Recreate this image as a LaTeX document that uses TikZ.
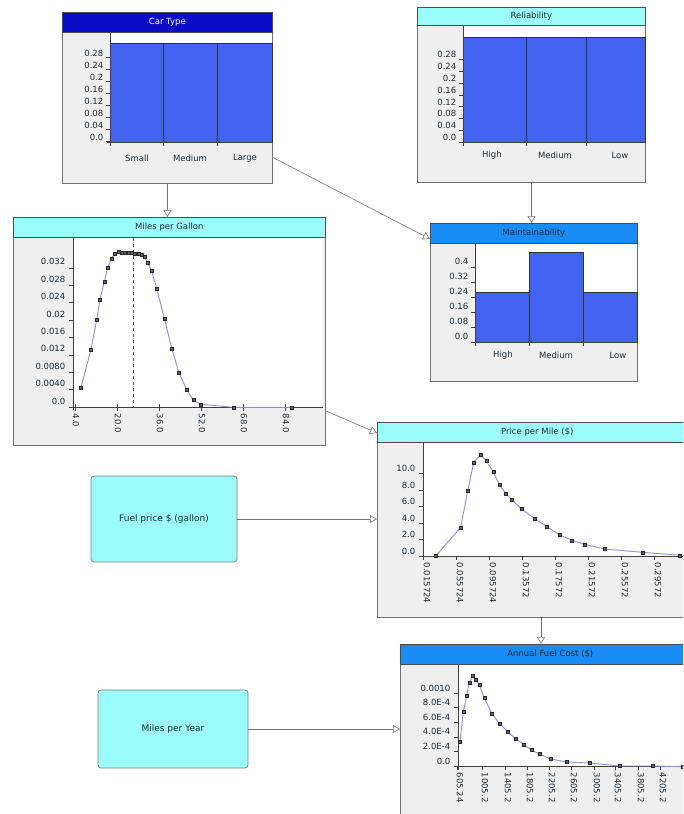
\documentclass[tikz,border=0pt]{standalone}
\usepackage{fontspec}
\setmainfont{DejaVu Sans}
\usetikzlibrary{arrows.meta}
\definecolor{hdrdark}{HTML}{0A0AC8}
\definecolor{hdrcyan}{HTML}{9CFCFC}
\definecolor{hdrmid}{HTML}{1A8CF5}
\definecolor{panelbg}{HTML}{EFEFEF}
\definecolor{barblue}{HTML}{4262F2}
\definecolor{curveblue}{HTML}{8E90D2}
\definecolor{txt}{HTML}{1E2A33}
\definecolor{edge}{HTML}{707070}
\newcommand{\tickfont}{\fontsize{8.5}{9}\selectfont}
\newcommand{\hdrfont}{\fontsize{8.5}{9}\selectfont}
\newcommand{\boxfont}{\fontsize{9}{10}\selectfont}
\begin{document}
\begin{tikzpicture}[x=1pt,y=-1pt,
  panel/.style={draw=edge, fill=panelbg, line width=0.9pt, inner sep=0pt, anchor=north west},
  hdr/.style={draw=black!70, line width=0.6pt, inner sep=0pt, anchor=north west, text=txt, font=\hdrfont},
  bar/.style={fill=barblue, draw=black!80, line width=0.5pt},
  axisline/.style={draw=black!75, line width=0.6pt},
  ticklab/.style={font=\tickfont, text=txt, inner sep=0.5pt},
  conn/.style={draw=black!55, line width=0.6pt, -{Triangle[open, length=7pt, width=8pt]}},
  curve/.style={draw=curveblue, line width=0.9pt},
  msq/.style={fill=black!60, draw=black!85, line width=0.3pt},
  rbox/.style={draw=black!50, fill=hdrcyan, rounded corners=3pt, line width=0.8pt, inner sep=0pt, font=\boxfont, text=txt}
]
\useasboundingbox (0,0) rectangle (683,814);
\clip (0,0) rectangle (683,814);
\fill[white] (0,0) rectangle (683,814);

% ---------------- Car Type
\node[panel, minimum width=210pt, minimum height=171pt] (ct) at (62,12) {};
\fill[white] (110,33) rectangle (272,142);
\filldraw[bar] (110,43) rectangle (163,142);
\filldraw[bar] (163,43) rectangle (217,142);
\filldraw[bar] (217,43) rectangle (272,142);
\draw[axisline] (110,33) -- (110,145);
\draw[axisline] (107,142) -- (272,142);
\foreach \v [count=\i from 0] in {0.0,0.04,0.08,0.12,0.16,0.2,0.24,0.28} {
  \draw[axisline] (106,141.7-\i*12) -- (110,141.7-\i*12);
  \node[ticklab, anchor=east] (ctt\i) at (104,141.7-\i*12-4.5) {\v};
}
\foreach \x in {110,163,217} \draw[axisline] (\x,142) -- (\x,146);
\node[ticklab] (cts) at (137,158) {Small};
\node[ticklab] (ctm) at (190,158) {Medium};
\node[ticklab] (ctl) at (245,158) {Large};
\node[hdr, fill=hdrdark, text=white, minimum width=210pt, minimum height=20pt] (cth) at (62,12) {Car Type};

% ---------------- Reliability
\node[panel, minimum width=228pt, minimum height=175pt] (rel) at (417,7) {};
\fill[white] (463,26) rectangle (645,142);
\filldraw[bar] (463,37) rectangle (526,142);
\filldraw[bar] (526,37) rectangle (586,142);
\filldraw[bar] (586,37) rectangle (645,142);
\draw[axisline] (463,26) -- (463,145);
\draw[axisline] (459,142) -- (645,142);
\foreach \v [count=\i from 0] in {0.0,0.04,0.08,0.12,0.16,0.2,0.24,0.28} {
  \draw[axisline] (459,142-\i*11.8) -- (463,142-\i*11.8);
  \node[ticklab, anchor=east] (relt\i) at (457,142-\i*11.8-4.5) {\v};
}
\foreach \x in {463,526,586} \draw[axisline] (\x,142) -- (\x,146);
\node[ticklab] (relh1) at (492,155) {High};
\node[ticklab] (relm1) at (555,155) {Medium};
\node[ticklab] (rell1) at (620,155) {Low};
\node[hdr, fill=hdrcyan, minimum width=228pt, minimum height=18pt] (relh) at (417,7) {Reliability};

% ---------------- Miles per Gallon
\node[panel, minimum width=312pt, minimum height=228pt] (mpg) at (13,217) {};
\fill[white] (73,237) rectangle (323,407);
\draw[axisline] (73,237) -- (73,410);
\draw[axisline] (70,407) -- (323,407);
\foreach \v [count=\i from 0] in {0.0,0.0040,0.0080,0.012,0.016,0.02,0.024,0.028,0.032} {
  \draw[axisline] (69,407-\i*17.4) -- (73,407-\i*17.4);
  \node[ticklab, anchor=east] (mpgt\i) at (66,407-\i*17.4-6) {\v};
}
\foreach \x/\v [count=\i] in {75/4.0,117/20.0,159/36.0,201/52.0,243/68.0,285/84.0} {
  \draw[axisline] (\x,404) -- (\x,411);
  \node[ticklab, rotate=-90, anchor=west] (mpgx\i) at (\x+1,413) {\v};
}
\draw[black!70, dashed, line width=0.6pt] (133,238) -- (133,407);
\draw[curve] plot coordinates {(81,387.3) (91,349.3) (96.7,320) (100,299.3) (104.3,281.7) (107.7,267.7) (111.7,258.3) (115,253.3) (118.3,251.7) (121.7,252.7) (125,252.7) (128.3,252.7) (131.7,252.7) (135,253.3) (138.3,254) (141.7,255) (144.3,256.7) (147.7,262.7) (151.7,271) (156.7,288.3) (164.3,318.3) (171.7,348.3) (179,372.7) (186.7,390) (193.3,400) (201,404.3) (233.3,407.3) (291.7,407.3)};
\foreach \px/\py in {81/387.3,91/349.3,96.7/320,100/299.3,104.3/281.7,107.7/267.7,111.7/258.3,115/253.3,118.3/251.7,121.7/252.7,125/252.7,128.3/252.7,131.7/252.7,135/253.3,138.3/254,141.7/255,144.3/256.7,147.7/262.7,151.7/271,156.7/288.3,164.3/318.3,171.7/348.3,179/372.7,186.7/390,193.3/400,201/404.3,233.3/407.3,291.7/407.3}
  \filldraw[msq] (\px-1.6,\py-1.6) rectangle (\px+1.6,\py+1.6);
\node[hdr, fill=hdrcyan, minimum width=312pt, minimum height=20pt] (mpgh) at (13,217) {Miles per Gallon};

% ---------------- Maintainability
\node[panel, minimum width=207pt, minimum height=158pt] (mt) at (430,223) {};
\fill[white] (475,243) rectangle (637,342);
\filldraw[bar] (475,292) rectangle (529,342);
\filldraw[bar] (529,252) rectangle (583,342);
\filldraw[bar] (583,292) rectangle (637,342);
\draw[axisline] (475,243) -- (475,345);
\draw[axisline] (471,342) -- (637,342);
\foreach \v [count=\i from 0] in {0.0,0.08,0.16,0.24,0.32,0.4} {
  \draw[axisline] (471,342-\i*15) -- (475,342-\i*15);
  \node[ticklab, anchor=east] (mtt\i) at (469,342-\i*15-6) {\v};
}
\foreach \x in {475,529,583} \draw[axisline] (\x,342) -- (\x,346);
\node[ticklab] (mth1) at (503,355) {High};
\node[ticklab] (mtm1) at (556,355) {Medium};
\node[ticklab] (mtl1) at (618,355) {Low};
\node[hdr, fill=hdrmid, minimum width=207pt, minimum height=20pt] (mth) at (430,223) {Maintainability};

% ---------------- Price per Mile
\node[panel, minimum width=320pt, minimum height=195pt] (pm) at (377,422) {};
\fill[white] (423,442) rectangle (690,556);
\draw[axisline] (423,442) -- (423,560);
\draw[axisline] (419,556) -- (690,556);
\foreach \v [count=\i from 0] in {0.0,2.0,4.0,6.0,8.0,10.0} {
  \draw[axisline] (419,556-\i*16.5) -- (423,556-\i*16.5);
  \node[ticklab, anchor=east] (pmt\i) at (416,556-\i*16.5-5) {\v};
}
\foreach \v [count=\i from 0] in {0.015724,0.055724,0.095724,0.13572,0.17572,0.21572,0.25572,0.29572} {
  \draw[axisline] (423+\i*33,556) -- (423+\i*33,560);
  \node[ticklab, rotate=-90, anchor=west] (pmx\i) at (427+\i*33,562) {\v};
}
\draw[curve] plot coordinates {(436,555.7) (460.7,527.3) (467.7,491) (473.7,462.3) (480.3,455) (486.3,460.7) (493.3,472) (499.3,484.7) (505.7,493.3) (512,500) (521.7,509) (534.7,518.7) (547,526.7) (559.3,534.7) (572,540.3) (584.7,544.3) (604.3,549) (642.7,552.3) (680,555.3)};
\foreach \px/\py in {436/555.7,460.7/527.3,467.7/491,473.7/462.3,480.3/455,486.3/460.7,493.3/472,499.3/484.7,505.7/493.3,512/500,521.7/509,534.7/518.7,547/526.7,559.3/534.7,572/540.3,584.7/544.3,604.3/549,642.7/552.3,680/555.3}
  \filldraw[msq] (\px-1.6,\py-1.6) rectangle (\px+1.6,\py+1.6);
\node[hdr, fill=hdrcyan, minimum width=320pt, minimum height=20pt] (pmh) at (377,422) {Price per Mile (\$)};

% ---------------- Annual Fuel Cost
\node[panel, minimum width=300pt, minimum height=175pt] (afc) at (400,644) {};
\fill[white] (458,664) rectangle (690,766);
\draw[axisline] (458,664) -- (458,770);
\draw[axisline] (454,766) -- (690,766);
\foreach \v [count=\i from 0] in {0.0,2.0E-4,4.0E-4,6.0E-4,8.0E-4,0.0010} {
  \draw[axisline] (454,766-\i*14.6) -- (458,766-\i*14.6);
  \node[ticklab, anchor=east] (afct\i) at (451,766-\i*14.6-5) {\v};
}
\foreach \x/\v [count=\i] in {460/605.24,485/1005.2,508/1405.2,530/1805.2,552/2205.2,574/2605.2,597/3005.2,618/3405.2,641/3805.2,663/4205.2} {
  \draw[axisline] (\x-3,766) -- (\x-3,770);
  \node[ticklab, rotate=-90, anchor=west] (afcx\i) at (\x,772) {\v};
}
\draw[curve] plot coordinates {(460,741.7) (463.3,711.7) (466.7,696) (469.3,682.7) (472.3,676) (476,680) (479.3,685) (484.3,697.7) (491.7,713.3) (499.3,723.3) (507.7,731.7) (515.7,738.7) (523.3,744.3) (531.3,750) (539.3,754) (550.7,759) (566.7,762) (589.3,763) (620,766) (652.3,766) (683,766.7)};
\foreach \px/\py in {460/741.7,463.3/711.7,466.7/696,469.3/682.7,472.3/676,476/680,479.3/685,484.3/697.7,491.7/713.3,499.3/723.3,507.7/731.7,515.7/738.7,523.3/744.3,531.3/750,539.3/754,550.7/759,566.7/762,589.3/763,620/766,652.3/766,683/766.7}
  \filldraw[msq] (\px-1.6,\py-1.6) rectangle (\px+1.6,\py+1.6);
\node[hdr, fill=hdrmid, minimum width=300pt, minimum height=20pt] (afch) at (400,644) {Annual Fuel Cost (\$)};

% ---------------- input boxes
\node[rbox, minimum width=146pt, minimum height=86pt] (fp) at (164,519) {Fuel price \$ (gallon)};
\node[rbox, minimum width=150pt, minimum height=78pt] (my) at (173,729) {Miles per Year};

% ---------------- connectors
\draw[conn] (ct.south) -- (ct.south |- mpg.north);
\draw[conn] (rel.south) -- (rel.south |- mt.north);
\draw[conn] ([yshift=-59.5pt]ct.east) -- ([yshift=-16pt]mt.north west);
\draw[conn] ([yshift=35pt]mpg.south east) -- ([yshift=-11pt]pm.north west);
\draw[conn] (fp.east) -- (fp.east -| pm.west);
\draw[conn] ([xshift=164pt]pm.south west) -- ([xshift=164pt]pm.south west |- afc.north);
\draw[conn] (my.east) -- (my.east -| afc.west);
\end{tikzpicture}
\end{document}
